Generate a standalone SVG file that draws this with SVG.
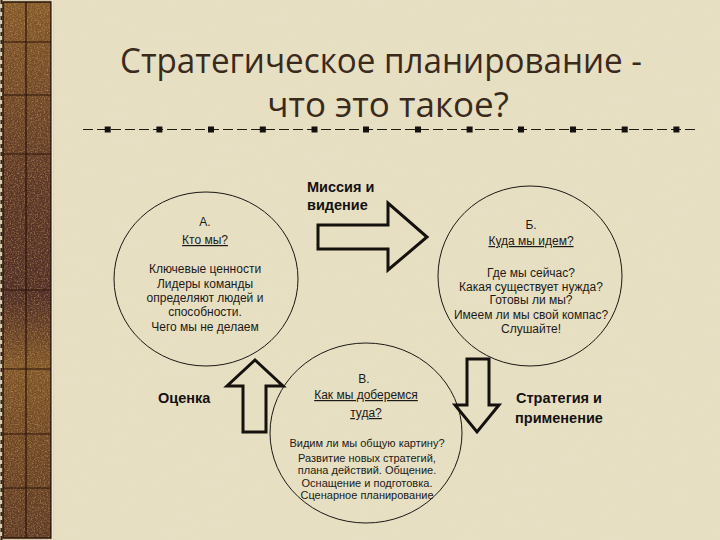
<svg xmlns="http://www.w3.org/2000/svg" width="720" height="540" viewBox="0 0 720 540">
  <defs>
    <style>
      .title { font-family: "Open Sans", "Noto Sans", "Liberation Sans", sans-serif; font-size: 35px; fill: #3a2a1b; text-anchor: middle; }
      .body { font-family: "Liberation Sans", Arial, sans-serif; font-size: 12px; fill: #1c1a16; text-anchor: middle; }
      .small { font-family: "Liberation Sans", Arial, sans-serif; font-size: 11px; fill: #1c1a16; text-anchor: middle; }
      .ul { text-decoration: underline; }
      .bold { font-family: "Liberation Sans", Arial, sans-serif; font-size: 14.5px; font-weight: bold; fill: #141210; }
      .ring { fill: none; stroke: #1a1814; stroke-width: 1; }
      .arrow { fill: none; stroke: #14110e; stroke-width: 3; stroke-linejoin: miter; }
      .grid { stroke: #2a140a; stroke-width: 1.2; }
    </style>
    <linearGradient id="strip" x1="0" y1="0" x2="0" y2="1">
      <stop offset="0" stop-color="#83582a"/>
      <stop offset="0.18" stop-color="#704729"/>
      <stop offset="0.35" stop-color="#5a3526"/>
      <stop offset="0.55" stop-color="#502e27"/>
      <stop offset="0.68" stop-color="#7e5428"/>
      <stop offset="0.85" stop-color="#6d4526"/>
      <stop offset="1" stop-color="#5e3a26"/>
    </linearGradient>
    <filter id="grain" x="0" y="0" width="1" height="1">
      <feTurbulence type="fractalNoise" baseFrequency="0.7" numOctaves="2" seed="4" result="n"/>
      <feColorMatrix in="n" type="matrix" values="0 0 0 0 0.78  0 0 0 0 0.52  0 0 0 0 0.18  2.2 0 0 0 -0.95"/>
    </filter>
    <filter id="paper" x="0" y="0" width="1" height="1">
      <feTurbulence type="fractalNoise" baseFrequency="0.02 0.35" numOctaves="2" seed="7" result="n"/>
      <feColorMatrix in="n" type="matrix" values="0 0 0 0 0.8  0 0 0 0 0.76  0 0 0 0 0.62  1.2 0 0 0 -0.55"/>
    </filter>
  </defs>

  <!-- background -->
  <rect x="0" y="0" width="720" height="540" fill="#e7dfc2"/>
  <rect x="0" y="0" width="720" height="540" filter="url(#paper)" opacity="0.35"/>

  <!-- left decorative strip -->
  <g id="strip-deco">
    <rect x="0" y="0" width="54" height="540" fill="#d9ceb0"/>
    <rect x="3" y="2" width="48" height="536" fill="url(#strip)"/>
    <rect x="3" y="2" width="48" height="536" filter="url(#grain)" opacity="0.5"/>
    <rect x="3" y="2" width="48" height="536" fill="none" stroke="#2a140a" stroke-width="1.5"/>
    <line class="grid" x1="26" y1="2" x2="26" y2="538"/>
    <line class="grid" x1="3" y1="42" x2="51" y2="42"/>
    <line class="grid" x1="3" y1="95" x2="51" y2="95"/>
    <line class="grid" x1="3" y1="154" x2="51" y2="154"/>
    <line class="grid" x1="3" y1="290" x2="51" y2="290"/>
    <line class="grid" x1="3" y1="369" x2="51" y2="369"/>
    <line class="grid" x1="3" y1="434" x2="51" y2="434"/>
    <line class="grid" x1="3" y1="488" x2="51" y2="488"/>
    <line x1="1.5" y1="0" x2="1.5" y2="540" stroke="#3a2418" stroke-width="2" stroke-dasharray="4 4"/>
    <line x1="52.5" y1="0" x2="52.5" y2="540" stroke="#f0ead6" stroke-width="1.5"/>
  </g>

  <!-- title -->
  <g id="title">
    <text class="title" x="381" y="73" textLength="522" lengthAdjust="spacingAndGlyphs">Стратегическое планирование -</text>
    <text class="title" x="388" y="117">что это такое?</text>
    <line x1="83" y1="129.5" x2="695" y2="129.5" stroke="#1e1a14" stroke-width="1" stroke-dasharray="10 4"/>
    <g fill="#141210">
      <rect x="104.7" y="126.5" width="6" height="6"/>
      <rect x="156.4" y="126.5" width="6" height="6"/>
      <rect x="208" y="126.5" width="6" height="6"/>
      <rect x="259.8" y="126.5" width="6" height="6"/>
      <rect x="311.5" y="126.5" width="6" height="6"/>
      <rect x="363" y="126.5" width="6" height="6"/>
      <rect x="415" y="126.5" width="6" height="6"/>
      <rect x="466.6" y="126.5" width="6" height="6"/>
      <rect x="518" y="126.5" width="6" height="6"/>
      <rect x="570" y="126.5" width="6" height="6"/>
      <rect x="621.7" y="126.5" width="6" height="6"/>
      <rect x="673.4" y="126.5" width="6" height="6"/>
    </g>
  </g>

  <!-- node A -->
  <g id="node-a">
    <ellipse class="ring" cx="206" cy="279" rx="92" ry="87"/>
    <text class="body" x="205" y="226">А.</text>
    <text class="body ul" x="205" y="244">Кто мы?</text>
    <text class="body" x="205" y="273">Ключевые ценности</text>
    <text class="body" x="205" y="288">Лидеры команды</text>
    <text class="body" x="205" y="302">определяют людей и</text>
    <text class="body" x="205" y="316">способности.</text>
    <text class="body" x="205" y="331">Чего мы не делаем</text>
  </g>

  <!-- node B -->
  <g id="node-b">
    <ellipse class="ring" cx="530" cy="276" rx="92" ry="90"/>
    <text class="body" x="531" y="229">Б.</text>
    <text class="body ul" x="531" y="245">Куда мы идем?</text>
    <text class="body" x="531" y="277">Где мы сейчас?</text>
    <text class="body" x="531" y="291">Какая существует нужда?</text>
    <text class="body" x="531" y="304">Готовы ли мы?</text>
    <text class="body" x="531" y="319">Имеем ли мы свой компас?</text>
    <text class="body" x="531" y="333">Слушайте!</text>
  </g>

  <!-- node C -->
  <g id="node-c">
    <ellipse class="ring" cx="366" cy="433" rx="96" ry="90"/>
    <text class="body" x="364" y="383">В.</text>
    <text class="body ul" x="366" y="399">Как мы доберемся</text>
    <text class="body ul" x="366" y="417">туда?</text>
    <text class="small" x="367" y="447">Видим ли мы общую картину?</text>
    <text class="small" x="367" y="462">Развитие новых стратегий,</text>
    <text class="small" x="367" y="474">плана действий. Общение.</text>
    <text class="small" x="367" y="487">Оснащение и подготовка.</text>
    <text class="small" x="367" y="499">Сценарное планирование</text>
  </g>

  <!-- labels -->
  <g id="label-mission">
    <text class="bold" x="307" y="192">Миссия и</text>
    <text class="bold" x="307" y="210">видение</text>
  </g>
  <g id="label-evaluation">
    <text class="bold" x="158" y="403">Оценка</text>
  </g>
  <g id="label-strategy">
    <text class="bold" x="559" y="403" text-anchor="middle">Стратегия и</text>
    <text class="bold" x="559" y="423" text-anchor="middle">применение</text>
  </g>

  <!-- connectors -->
  <g id="connectors">
    <polygon class="arrow" points="318,225 388,225 388,203 427,237 388,270 388,249 318,249"/>
    <polygon class="arrow" points="243,432 243,386 227,386 255,360 283,386 266,386 266,432"/>
    <polygon class="arrow" points="467,359 489,359 489,405 499,405 477,432 455,405 467,405"/>
  </g>
</svg>
